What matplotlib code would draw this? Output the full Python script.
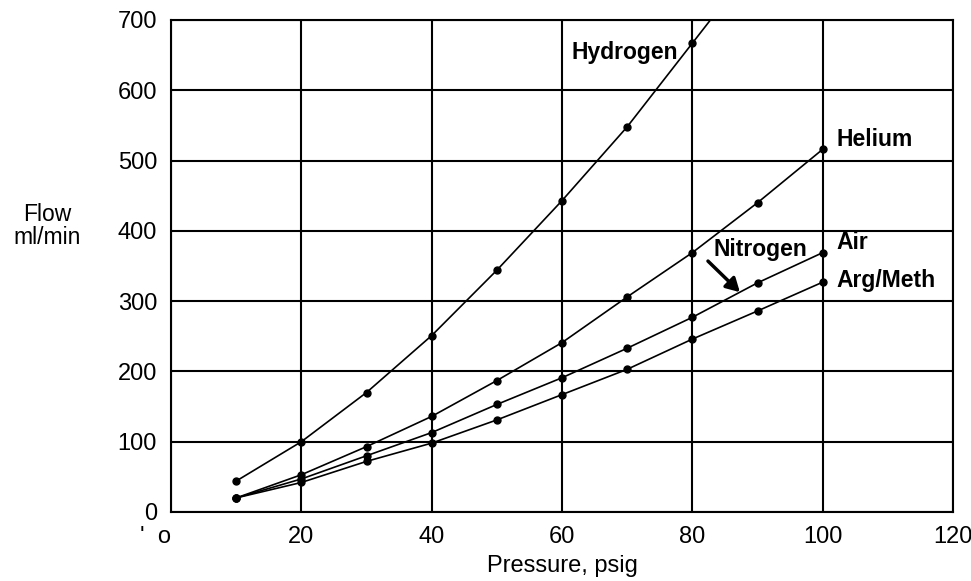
import numpy as np
import matplotlib
matplotlib.use("Agg")
import matplotlib.pyplot as plt
from matplotlib import font_manager

# ---- data ----
pressure_h = [10, 20, 30, 40, 50, 60, 70, 80]
hydrogen = [44, 100, 170, 251, 344, 443, 548, 667]
pressure = [10, 20, 30, 40, 50, 60, 70, 80, 90, 100]
helium = [20, 53, 93, 136, 187, 241, 306, 369, 440, 516]
air = [20, 47, 80, 113, 153, 191, 233, 277, 326, 369]
argmeth = [20, 42, 72, 98, 131, 167, 203, 246, 286, 327]
xticks = [0, 20, 40, 60, 80, 100, 120]
xticklabels = ["'  o", "20", "40", "60", "80", "100", "120"]
yticks = [0, 100, 200, 300, 400, 500, 600, 700]
series_labels = ["Hydrogen", "Helium", "Air", "Arg/Meth"]
nitrogen_label = "Nitrogen"
nitrogen_x = 87.3  # pressure where the Nitrogen arrow meets the Air curve

names = {f.name for f in font_manager.fontManager.ttflist}
base_font = "Liberation Sans" if "Liberation Sans" in names else "DejaVu Sans"
label_font = "Liberation Sans Narrow" if "Liberation Sans Narrow" in names else base_font
plt.rcParams['font.family'] = [base_font, 'DejaVu Sans']

fig = plt.figure(figsize=(9.71, 5.81), dpi=100)
ax = fig.add_axes([171/971, 1 - 512/581, (953 - 171)/971, (512 - 20)/581])

ax.set_xlim(0, 120)
ax.set_ylim(0, 700)
ax.set_xticks(xticks)
ax.set_xticklabels(xticklabels)
ax.get_xticklabels()[0].set_horizontalalignment('right')
ax.set_yticks(yticks)
ax.tick_params(length=0, labelsize=17, pad=10)
ax.grid(True, color='black', linewidth=1.5)
for s in ax.spines.values():
    s.set_linewidth(1.5)
ax.set_axisbelow(True)

lc = dict(color='black', linewidth=1.2, marker='o', markersize=5, clip_on=True)

# Hydrogen: extend the last segment until it leaves the plot
slope = (hydrogen[-1] - hydrogen[-2]) / (pressure_h[-1] - pressure_h[-2])
ax.plot([pressure_h[-1], pressure_h[-1] + 10], [hydrogen[-1], hydrogen[-1] + slope * 10],
        color='black', linewidth=1.2)
ax.plot(pressure_h, hydrogen, **lc)
ax.plot(pressure, helium, **lc)
ax.plot(pressure, air, **lc)
ax.plot(pressure, argmeth, **lc)

tk = dict(fontsize=16.5, fontweight='bold', family=[label_font, 'DejaVu Sans'], va='center')
ax.text(77.8, 654, series_labels[0], ha='right', **tk)
ax.text(102.1, 530, series_labels[1], ha='left', **tk)
ax.text(102.1, 383, series_labels[2], ha='left', **tk)
ax.text(102.1, 329, series_labels[3], ha='left', **tk)
ax.text(83.2, 374, nitrogen_label, ha='left', **tk)

ny = np.interp(nitrogen_x, pressure, air)
ax.annotate('', xy=(nitrogen_x, ny), xytext=(82.4, 357),
            arrowprops=dict(arrowstyle='-|>,head_length=0.8,head_width=0.45',
                            color='black', lw=2.5, shrinkA=0, shrinkB=0))

ax.set_xlabel("Pressure, psig", fontsize=17, labelpad=5)
fig.text(47/971, 1 - 226/581, "Flow\nml/min", fontsize=16.5, ha='center', va='center',
         linespacing=1.0)

fig.savefig("out.png", dpi=100)
